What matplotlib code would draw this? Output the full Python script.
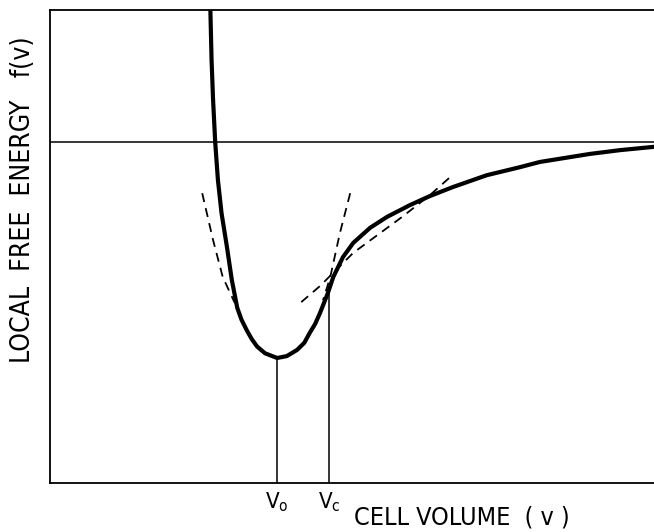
import numpy as np
import matplotlib
matplotlib.use("Agg")
from matplotlib import pyplot as plt

# solid curve f(v) (axes units 0..10 on both axes)
v_curve = [2.655, 2.675, 2.70, 2.735, 2.78, 2.84, 2.93, 3.01, 3.10, 3.17, 3.26, 3.34,
           3.43, 3.56, 3.76, 3.92, 4.09, 4.21, 4.30, 4.39, 4.47, 4.60, 4.69, 4.85,
           5.02, 5.30, 5.58, 5.96, 6.29, 6.67, 7.23, 7.78, 8.11, 8.94, 9.44, 10.0]
f_curve = [10.0, 8.93, 8.09, 7.20, 6.40, 5.70, 4.98, 4.29, 3.70, 3.45, 3.22, 3.04,
           2.88, 2.74, 2.64, 2.68, 2.81, 2.96, 3.17, 3.36, 3.59, 4.01, 4.35, 4.77,
           5.07, 5.39, 5.62, 5.87, 6.06, 6.25, 6.50, 6.67, 6.78, 6.95, 7.03, 7.10]

# dashed approximations
v_dash_left = [2.52, 2.70, 2.86, 3.06]
f_dash_left = [6.12, 5.13, 4.35, 3.80]
v_dash_right = [4.97, 4.80, 4.64, 4.52]
f_dash_right = [6.12, 5.28, 4.35, 3.86]
v_tangent = [4.16, 4.47, 5.02, 5.83, 6.29, 6.66]
f_tangent = [3.82, 4.16, 4.86, 5.62, 6.08, 6.50]

f_zero = 7.20          # horizontal reference line
v0, f_v0 = 3.75, 2.64
vc, f_vc = 4.62, 4.05

fig = plt.figure(figsize=(6.54, 5.32), dpi=100)
ax = fig.add_axes([50 / 654, 49 / 532, 604 / 654, 473.5 / 532])
ax.set_xlim(0, 10)
ax.set_ylim(0, 10)

ax.plot(v_curve, f_curve, color="black", lw=3.0, solid_joinstyle="round",
        solid_capstyle="round")
dash = dict(color="black", lw=1.3, dashes=(5, 3.5))
ax.plot(v_dash_left, f_dash_left, **dash)
ax.plot(v_dash_right, f_dash_right, **dash)
ax.plot(v_tangent, f_tangent, **dash)

ax.axhline(f_zero, color="black", lw=1.1)
ax.plot([v0, v0], [0, f_v0], color="black", lw=1.1)
ax.plot([vc, vc], [0, f_vc], color="black", lw=1.1)

for s in ["left", "top", "bottom"]:
    ax.spines[s].set_linewidth(1.3)
ax.spines["right"].set_visible(False)
ax.set_xticks([])
ax.set_yticks([])

lab = dict(family="DejaVu Sans", fontstretch="condensed", color="black")
ax.text(v0, -0.15, r"V$_\mathregular{o}$", ha="center", va="top", fontsize=16, **lab)
ax.text(vc, -0.15, r"V$_\mathregular{c}$", ha="center", va="top", fontsize=16, **lab)
fig.text(462 / 654, 1 - 517 / 532, "CELL VOLUME  ( v )", ha="center", va="center",
         fontsize=18, **lab)
fig.text(23 / 654, 1 - 200 / 532, "LOCAL  FREE  ENERGY   f(v)", rotation=90,
         ha="center", va="center", fontsize=19, **lab)

fig.savefig("out.png", dpi=100)
